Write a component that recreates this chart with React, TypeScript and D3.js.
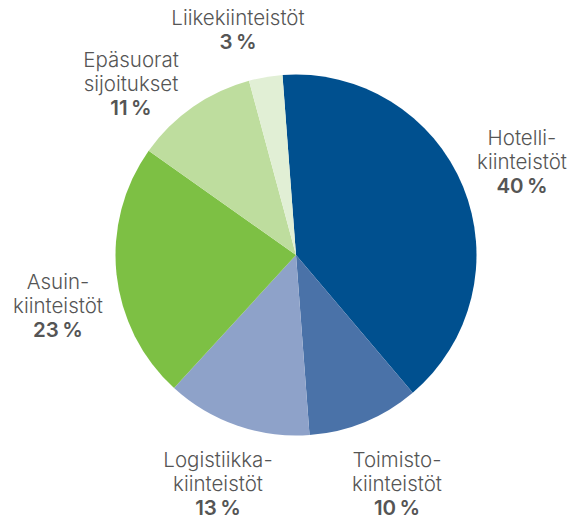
import React from 'react'
import * as d3 from 'd3'

const categories = ['Hotelli', 'Toimisto', 'Logistiikka', 'Asuin', 'Epäsuorat', 'Liike']
const values = [40, 10, 13, 23, 11, 3]
const labelLines = [
  ['Hotelli-', 'kiinteistöt'],
  ['Toimisto-', 'kiinteistöt'],
  ['Logistiikka-', 'kiinteistöt'],
  ['Asuin-', 'kiinteistöt'],
  ['Epäsuorat', 'sijoitukset'],
  ['Liikekiinteistöt'],
]
const percentLabels = ['40\u2009%', '10\u2009%', '13\u2009%', '23\u2009%', '11\u2009%', '3\u2009%']

const colors = ['#00508f', '#4a72a8', '#8ea2c9', '#7dc044', '#bedd9e', '#e1efd5']
// label anchor (center x, first baseline) picked to match the original layout
const labelPos = [
  [522, 145],
  [397, 467],
  [218, 467],
  [58, 289],
  [131, 67],
  [238, 25],
]

const width = 587
const height = 520
const cx = 296
const cy = 255
const radius = 180.5
const lineH = 24

export default function App() {
  const pie = d3
    .pie<number>()
    .sort(null)
    .startAngle((-4.3 * Math.PI) / 180)
    .endAngle(2 * Math.PI - (4.3 * Math.PI) / 180)
  const arc = d3.arc<d3.PieArcDatum<number>>().innerRadius(0).outerRadius(radius)
  const arcs = pie(values)

  return (
    <svg
      width={width}
      height={height}
      style={{ position: 'absolute', left: 0, top: 0 }}
      fontFamily="Inter, 'Noto Sans', sans-serif"
    >
      <g transform={`translate(${cx},${cy})`}>
        {arcs.map((a, i) => (
          <path key={categories[i]} d={arc(a) || ''} fill={colors[i]} />
        ))}
      </g>
      {categories.map((c, i) => {
        const [x, y] = labelPos[i]
        const lines = labelLines[i]
        return (
          <text key={c} x={x} y={y} textAnchor="middle" fill="#555" fontSize={20.5} fontWeight={300}>
            {lines.map((l, j) => (
              <tspan key={j} x={x} y={y + j * lineH}>
                {l}
              </tspan>
            ))}
            <tspan x={x} y={y + lines.length * lineH} fontWeight={600}>
              {percentLabels[i]}
            </tspan>
          </text>
        )
      })}
    </svg>
  )
}
